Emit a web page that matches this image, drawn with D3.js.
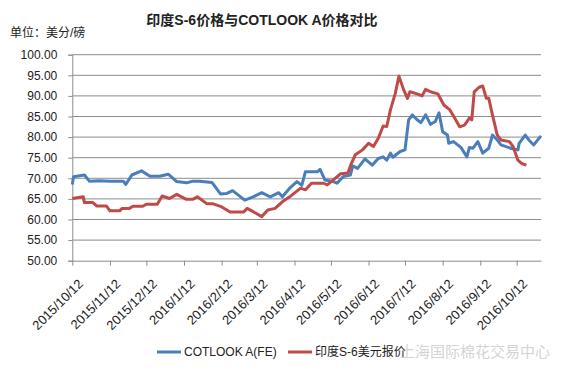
<!DOCTYPE html>
<html>
<head>
<meta charset="utf-8">
<script src="https://cdn.jsdelivr.net/npm/d3@7"></script>
<style>
  body { margin: 0; background: #fff; }
  text { font-family: "Liberation Sans", "Noto Sans CJK SC", sans-serif; }
</style>
</head>
<body>
<div id="viz"></div>
<script>
// COTLOOK A(FE)
const cotDates = ['2015-10-12','2015-10-13','2015-10-22','2015-10-26','2015-11-03','2015-11-12','2015-11-23','2015-11-25',
  '2015-11-30','2015-12-08','2015-12-15','2015-12-23','2015-12-30','2016-01-06','2016-01-14','2016-01-19','2016-01-25',
  '2016-02-04','2016-02-11','2016-02-16','2016-02-21','2016-03-02','2016-03-09','2016-03-16','2016-03-23','2016-03-30',
  '2016-04-02','2016-04-08','2016-04-14','2016-04-18','2016-04-21','2016-05-01','2016-05-03','2016-05-07','2016-05-14',
  '2016-05-17','2016-05-22','2016-05-28','2016-05-30','2016-06-03','2016-06-09','2016-06-15','2016-06-20','2016-06-24',
  '2016-06-27','2016-06-30','2016-07-02','2016-07-08','2016-07-12','2016-07-15','2016-07-18','2016-07-22','2016-07-25',
  '2016-07-29','2016-08-02','2016-08-06','2016-08-09','2016-08-12','2016-08-16','2016-08-17','2016-08-21','2016-08-27',
  '2016-09-01','2016-09-03','2016-09-06','2016-09-10','2016-09-14','2016-09-19','2016-09-22','2016-09-26','2016-09-29',
  '2016-10-07','2016-10-13','2016-10-14','2016-10-19','2016-10-22','2016-10-26','2016-11-01']
const cotValues = [68.5,70.4,70.8,69.3,69.4,69.3,69.3,68.5,
  70.8,71.8,70.5,70.5,71.0,69.2,68.9,69.3,69.3,
  69.0,66.2,66.3,67.0,64.7,65.5,66.5,65.5,66.5,
  65.5,67.6,69.2,68.3,71.6,71.6,72.2,69.6,69.2,
  68.8,70.4,70.8,73.0,72.4,74.7,73.2,74.8,75.2,
  74.4,76.1,75.1,76.5,76.9,84.2,85.4,84.2,83.5,
  85.4,83.1,83.8,85.9,81.3,80.5,78.5,78.9,77.5,
  75.2,77.5,77.3,78.9,76.1,77.3,80.5,79.3,78.1,
  77.3,76.9,78.5,80.5,79.3,78.1,80.3]

// 印度S-6美元报价
const s6Dates = ['2015-10-12','2015-10-21','2015-10-22','2015-10-29','2015-11-01','2015-11-09','2015-11-12','2015-11-20',
  '2015-11-22','2015-11-28','2015-12-01','2015-12-09','2015-12-12','2015-12-21','2015-12-25','2015-12-31','2016-01-06',
  '2016-01-14','2016-01-19','2016-01-23','2016-01-31','2016-02-05','2016-02-11','2016-02-19','2016-03-01','2016-03-04',
  '2016-03-09','2016-03-16','2016-03-21','2016-03-27','2016-04-02','2016-04-08','2016-04-17','2016-04-21','2016-04-26',
  '2016-05-06','2016-05-09','2016-05-14','2016-05-20','2016-05-26','2016-05-28','2016-06-01','2016-06-07','2016-06-12',
  '2016-06-16','2016-06-20','2016-06-24','2016-06-27','2016-06-30','2016-07-04','2016-07-07','2016-07-11','2016-07-14',
  '2016-07-16','2016-07-22','2016-07-26','2016-07-29','2016-08-02','2016-08-08','2016-08-13','2016-08-18','2016-08-22',
  '2016-08-26','2016-08-30','2016-09-03','2016-09-05','2016-09-07','2016-09-11','2016-09-14','2016-09-17','2016-09-19',
  '2016-09-22','2016-09-26','2016-09-29','2016-10-06','2016-10-09','2016-10-13','2016-10-16','2016-10-20']
const s6Values = [65.1,65.5,64.1,64.1,63.3,63.3,62.1,62.1,
  62.7,62.7,63.2,63.2,63.7,63.7,65.7,65.1,66.1,
  64.9,64.9,65.5,63.8,63.8,63.2,61.8,61.8,62.7,
  61.9,60.7,62.3,62.7,64.3,65.5,67.6,67.2,68.8,
  68.8,68.4,69.6,71.1,71.3,73.0,75.7,76.9,78.5,
  77.7,79.7,82.7,82.6,86.6,90.6,94.8,91.4,89.4,
  91.0,90.5,90.0,91.6,91.0,90.5,87.8,86.6,84.6,
  82.5,82.9,84.6,84.2,91.0,92.1,92.4,89.4,89.4,
  85.4,80.5,79.3,78.9,77.7,74.4,73.6,73.2]

const tickDates = ['2015-10-12','2015-11-12','2015-12-12','2016-01-12','2016-02-12','2016-03-12','2016-04-12',
  '2016-05-12','2016-06-12','2016-07-12','2016-08-12','2016-09-12','2016-10-12']
const yTicks = [50, 55, 60, 65, 70, 75, 80, 85, 90, 95, 100]

const parse = d3.timeParse('%Y-%m-%d')
const fmt = d => `${d.getFullYear()}/${d.getMonth() + 1}/${d.getDate()}`

const width = 566
const height = 377

const svg = d3.select('#viz').append('svg')
  .attr('width', width)
  .attr('height', height)

const x = d3.scaleTime()
  .domain([parse('2015-10-12'), parse('2016-11-01')])
  .range([72.3, 541])
const y = d3.scaleLinear()
  .domain([50, 100])
  .range([260.7, 54.7])

// gridlines
svg.append('g')
  .selectAll('line')
  .data(yTicks.slice(1))
  .join('line')
  .attr('x1', 72.3).attr('x2', 541)
  .attr('y1', d => y(d)).attr('y2', d => y(d))
  .attr('stroke', '#8c8c8c')
  .attr('stroke-width', 1)

// y axis
const yAxis = svg.append('g')
  .attr('transform', 'translate(72.3,0)')
  .call(d3.axisLeft(y).tickValues(yTicks).tickFormat(d3.format('.2f')).tickSize(4).tickPadding(11))
yAxis.select('.domain').attr('stroke', '#8c8c8c')
yAxis.selectAll('.tick line').attr('stroke', '#8c8c8c')
yAxis.selectAll('.tick text').attr('font-size', 12).attr('fill', '#222')

// x axis
const xAxis = svg.append('g')
  .attr('transform', `translate(0,${y(50)})`)
  .call(d3.axisBottom(x).tickValues(tickDates.map(parse)).tickFormat(fmt).tickSize(5).tickSizeOuter(0))
xAxis.select('.domain').attr('stroke', '#8c8c8c')
xAxis.selectAll('.tick line').attr('stroke', '#8c8c8c')
xAxis.selectAll('.tick text')
  .attr('font-size', 13)
  .attr('fill', '#222')
  .attr('text-anchor', 'end')
  .attr('x', 0)
  .attr('y', 0)
  .attr('dy', 0)
  .attr('transform', 'translate(11,24) rotate(-45)')

const line = d3.line()
  .x(d => x(d[0]))
  .y(d => y(d[1]))

const series = [
  { name: 'COTLOOK A(FE)', color: '#4a7ebb', data: d3.zip(cotDates.map(parse), cotValues) },
  { name: '印度S-6美元报价', color: '#be4b48', data: d3.zip(s6Dates.map(parse), s6Values) }
]

svg.append('g')
  .selectAll('path')
  .data(series)
  .join('path')
  .attr('d', d => line(d.data))
  .attr('fill', 'none')
  .attr('stroke', d => d.color)
  .attr('stroke-width', 3)
  .attr('stroke-linejoin', 'round')

// title & unit
svg.append('text')
  .text('印度S-6价格与COTLOOK A价格对比')
  .attr('x', 262).attr('y', 25)
  .attr('text-anchor', 'middle')
  .attr('font-size', 14)
  .attr('font-weight', 'bold')
  .attr('fill', '#222')

svg.append('text')
  .text('单位：美分/磅')
  .attr('x', 10).attr('y', 37)
  .attr('font-size', 12)
  .attr('fill', '#222')

// legend
const legendX = [157, 288]
const legend = svg.append('g')
  .selectAll('g')
  .data(series)
  .join('g')
  .attr('transform', (d, i) => `translate(${legendX[i]},352)`)
legend.append('line')
  .attr('x1', 0).attr('x2', 24)
  .attr('stroke', d => d.color)
  .attr('stroke-width', 3)
legend.append('text')
  .text(d => d.name)
  .attr('x', 27).attr('y', 4)
  .attr('font-size', 12)
  .attr('fill', '#222')

// watermark
svg.append('text')
  .text('上海国际棉花交易中心')
  .attr('x', 550).attr('y', 357)
  .attr('text-anchor', 'end')
  .attr('font-size', 15)
  .attr('fill', '#c8c8c8')
  .attr('fill-opacity', 0.8)
</script>
</body>
</html>
